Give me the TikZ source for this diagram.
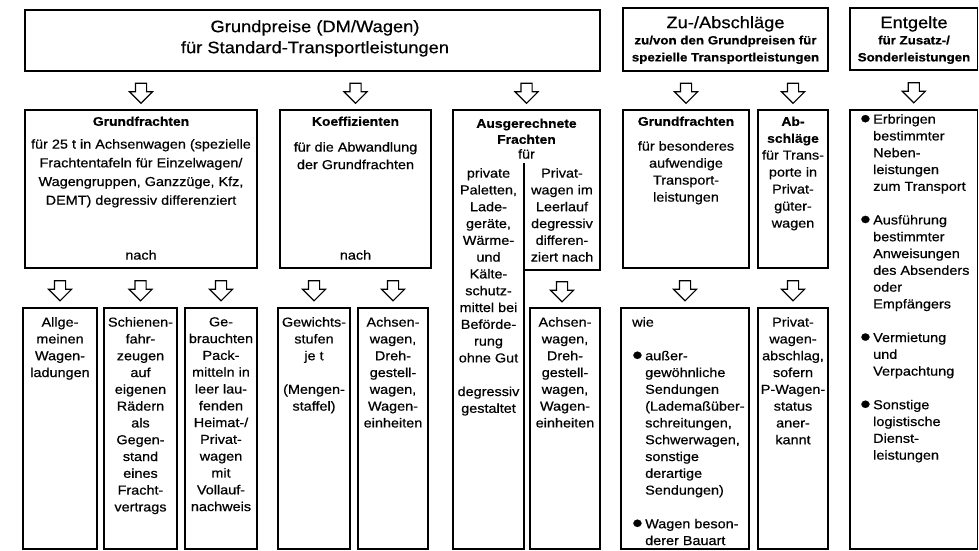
\documentclass[tikz,border=0pt]{standalone}
\usepackage{fontspec}
\setmainfont[FakeStretch=1.11, FakeBold=0.6]{Liberation Sans}
\usepackage{tikz}
\usetikzlibrary{shapes.arrows}
\newcommand{\bodysize}{\fontsize{13}{16.8}\selectfont}
\newcommand{\headsize}{\fontsize{12.5}{16.5}\selectfont\bfseries}
\newcommand{\titlesize}{\fontsize{16.5}{21}\selectfont}
\newcommand{\blt}{\makebox[13pt][l]{\raisebox{-4pt}{\fontsize{27}{10}\selectfont\textbullet}}}
\newcommand{\ind}{\hspace*{13pt}}
\tikzstyle{box} = [draw, line width=1.3pt, anchor=north west, inner sep=0pt, outer sep=0pt]
\tikzstyle{txt} = [anchor=north, align=center, inner sep=0pt, font=\bodysize]
\tikzstyle{head} = [anchor=north, align=center, inner sep=0pt, font=\headsize]
\tikzstyle{hollow} = [single arrow, draw, line width=1.1pt, rotate=-90, inner xsep=0pt, inner ysep=5pt, minimum height=20pt, single arrow head extend=6pt, single arrow tip angle=90]
\begin{document}
\begin{tikzpicture}[x=1pt, y=-1pt]
    \useasboundingbox (0,0) rectangle (979,551);
    % top row
    \node[box, minimum width=575, minimum height=61] (gp) at (25,10) {};
    \node[box, minimum width=205, minimum height=63] (zu) at (623,8) {};
    \node[box, minimum width=127.5, minimum height=62] (ent) at (850,8) {};
    \node[txt, font=\titlesize] (gptxt) at (315,20) {Grundpreise (DM/Wagen)\\f\"ur Standard-Transportleistungen};
    \node[txt, font=\titlesize] (zutitle) at (725.5,16) {Zu-/Abschl\"age};
    \node[head, font=\fontsize{12}{17}\selectfont\bfseries] (zusub) at (725.5,35.5) {zu/von den Grundpreisen f\"ur\\spezielle Transportleistungen};
    \node[txt, font=\titlesize] (enttitle) at (914,16) {Entgelte};
    \node[head, font=\fontsize{12}{17}\selectfont\bfseries] (entsub) at (914,35.5) {f\"ur Zusatz-/\\Sonderleistungen};
    % middle row
    \node[box, minimum width=232, minimum height=158] (gf) at (25,110) {};
    \node[box, minimum width=151, minimum height=158] (ko) at (280,110) {};
    \node[box, minimum width=126, minimum height=158] (zgf) at (623,110) {};
    \node[box, minimum width=70, minimum height=158] (ab) at (758,110) {};
    \node[box, minimum width=127.5, minimum height=439] (entbox) at (850,110) {};
    \draw[line width=1.3pt] (453,110) -- (600,110) -- (600,270) -- (524,270) -- (524,549) -- (453,549) -- cycle;
    \draw[line width=1.3pt] (524,163) -- (524,270);
    \coordinate (ausgtop) at (526.5,110);
    \coordinate (ausgfoot) at (562,270);
    \node[head] (gfhead) at (141,116.5) {Grundfrachten};
    \node[txt, font=\fontsize{13}{18.7}\selectfont] (gftxt) at (141,139) {f\"ur 25 t in Achsenwagen (spezielle\\Frachtentafeln f\"ur Einzelwagen/\\Wagengruppen, Ganzz\"uge, Kfz,\\DEMT) degressiv differenziert};
    \node[txt] (gfnach) at (141,250) {nach};
    \node[head] (kohead) at (355.5,116.5) {Koeffizienten};
    \node[txt, font=\fontsize{13}{17.5}\selectfont] (kotxt) at (355.5,142) {f\"ur die Abwandlung\\der Grundfrachten};
    \node[txt] (konach) at (355.5,250) {nach};
    \node[head, font=\fontsize{12.5}{16}\selectfont\bfseries] (ausghead) at (526.5,118.5) {Ausgerechnete\\Frachten};
    \node[txt] (ausgfuer) at (526.5,149) {f\"ur};
    \node[txt] (ausgl) at (488.5,168) {private\\Paletten,\\Lade-\\ger\"ate,\\W\"arme-\\und\\K\"alte-\\schutz-\\mittel bei\\Bef\"orde-\\rung\\ohne Gut\\[16.8pt]degressiv\\gestaltet};
    \node[txt] (ausgr) at (562,168) {Privat-\\wagen im\\Leerlauf\\degressiv\\differen-\\ziert nach};
    \node[head] (zgfhead) at (686,116.5) {Grundfrachten};
    \node[txt, font=\fontsize{13}{17}\selectfont] (zgftxt) at (686,141) {f\"ur besonderes\\aufwendige\\Transport-\\leistungen};
    \node[head, font=\fontsize{12.5}{17}\selectfont\bfseries] (abhead) at (793,116.5) {Ab-\\schl\"age};
    \node[txt, font=\fontsize{13}{17}\selectfont] (abtxt) at (793,150) {f\"ur Trans-\\porte in\\Privat-\\g\"uter-\\wagen};
    \node[txt, anchor=north west, align=left] (entlist) at (860,114) {\blt Erbringen\\\ind bestimmter\\\ind Neben-\\\ind leistungen\\\ind zum Transport\\[16.8pt]\blt Ausf\"uhrung\\\ind bestimmter\\\ind Anweisungen\\\ind des Absenders\\\ind oder\\\ind Empf\"angers\\[16.8pt]\blt Vermietung\\\ind und\\\ind Verpachtung\\[16.8pt]\blt Sonstige\\\ind logistische\\\ind Dienst-\\\ind leistungen};
    % bottom row
    \node[box, minimum width=74, minimum height=241] (alg) at (23,308) {};
    \node[box, minimum width=73, minimum height=241] (sch) at (104,308) {};
    \node[box, minimum width=72, minimum height=241] (geb) at (185,308) {};
    \node[box, minimum width=72, minimum height=241] (gew) at (278,308) {};
    \node[box, minimum width=70, minimum height=241] (ach1) at (358,308) {};
    \node[box, minimum width=70, minimum height=241] (ach2) at (530,308) {};
    \node[box, minimum width=128, minimum height=241] (wie) at (621,308) {};
    \node[box, minimum width=70, minimum height=241] (pw) at (758,308) {};
    \node[txt] (algtxt) at (alg.north |- 0,317) {Allge-\\meinen\\Wagen-\\ladungen};
    \node[txt] (schtxt) at (sch.north |- 0,317) {Schienen-\\fahr-\\zeugen\\auf\\eigenen\\R\"adern\\als\\Gegen-\\stand\\eines\\Fracht-\\vertrags};
    \node[txt] (gebtxt) at (geb.north |- 0,317) {Ge-\\brauchten\\Pack-\\mitteln in\\leer lau-\\fenden\\Heimat-/\\Privat-\\wagen\\mit\\Vollauf-\\nachweis};
    \node[txt] (gewtxt) at (gew.north |- 0,317) {Gewichts-\\stufen\\je t\\[16.8pt](Mengen-\\staffel)};
    \node[txt] (ach1txt) at (ach1.north |- 0,317) {Achsen-\\wagen,\\Dreh-\\gestell-\\wagen,\\Wagen-\\einheiten};
    \node[txt] (ach2txt) at (ach2.north |- 0,317) {Achsen-\\wagen,\\Dreh-\\gestell-\\wagen,\\Wagen-\\einheiten};
    \node[txt, anchor=north west, align=left] (wietxt) at (632,317) {wie\\[16.8pt]\blt au\ss er-\\\ind gew\"ohnliche\\\ind Sendungen\\\ind (Ladema\ss \"uber-\\\ind schreitungen,\\\ind Schwerwagen,\\\ind sonstige\\\ind derartige\\\ind Sendungen)\\[16.8pt]\blt Wagen beson-\\\ind derer Bauart};
    \node[txt] (pwtxt) at (pw.north |- 0,317) {Privat-\\wagen-\\abschlag,\\sofern\\P-Wagen-\\status\\aner-\\kannt};
    % hollow arrows
    \path (gp.south -| gf.north) -- (gf.north) node[midway, hollow] {};
    \path (gp.south -| ko.north) -- (ko.north) node[midway, hollow] {};
    \path (gp.south -| ausgtop) -- (ausgtop) node[midway, hollow] {};
    \path (zu.south -| zgf.north) -- (zgf.north) node[midway, hollow] {};
    \path (zu.south -| ab.north) -- (ab.north) node[midway, hollow] {};
    \path (ent.south) -- (entbox.north) node[midway, hollow] {};
    \path (gf.south -| alg.north) -- (alg.north) node[midway, hollow] {};
    \path (gf.south -| sch.north) -- (sch.north) node[midway, hollow] {};
    \path (gf.south -| geb.north) -- (geb.north) node[midway, hollow] {};
    \path (ko.south -| gew.north) -- (gew.north) node[midway, hollow] {};
    \path (ko.south -| ach1.north) -- (ach1.north) node[midway, hollow] {};
    \path (ausgfoot) -- (ausgfoot |- ach2.north) node[midway, hollow] {};
    \path (zgf.south -| wie.north) -- (wie.north) node[midway, hollow] {};
    \path (ab.south -| pw.north) -- (pw.north) node[midway, hollow] {};
\end{tikzpicture}
\end{document}
